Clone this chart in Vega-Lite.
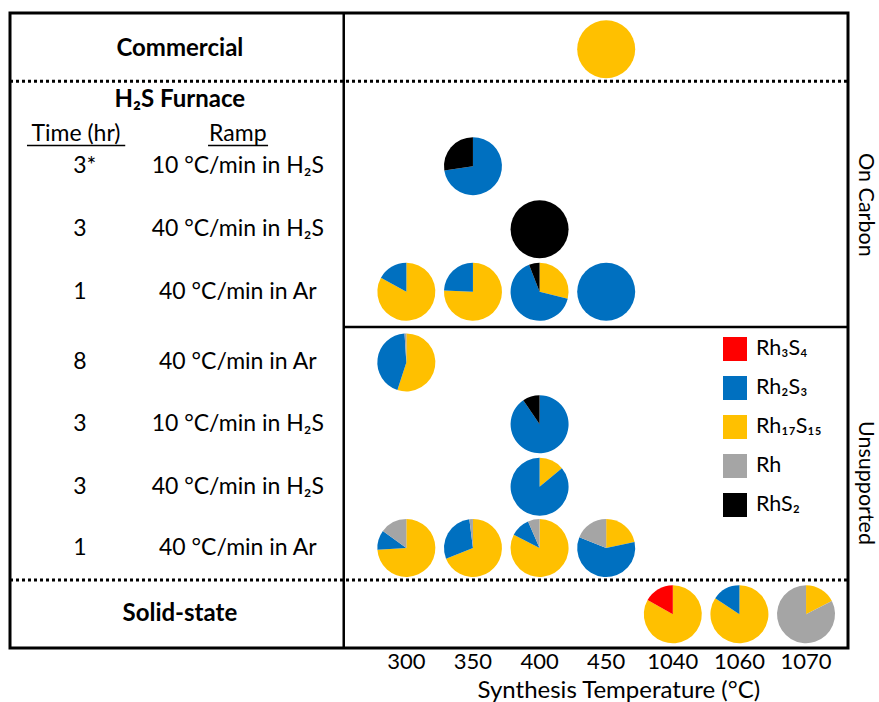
{
  "$schema": "https://vega.github.io/schema/vega-lite/v6.json",
  "width": 838,
  "height": 635,
  "autosize": {"type": "none"},
  "padding": {"left": 10, "top": 13, "right": 31, "bottom": 54},
  "background": "white",
  "config": {
    "view": {"stroke": "black", "strokeWidth": 3},
    "font": "Lato",
    "text": {"font": "Lato", "color": "black"}
  },
  "datasets": {
    "rows": [
      {"row": "c", "y": 0.58},
      {"row": "h1", "time": "3*", "ramp": "10 °C/min in H₂S", "y": 2.45},
      {"row": "h2", "time": "3", "ramp": "40 °C/min in H₂S", "y": 3.46},
      {"row": "h3", "time": "1", "ramp": "40 °C/min in Ar", "y": 4.46},
      {"row": "h4", "time": "8", "ramp": "40 °C/min in Ar", "y": 5.59},
      {"row": "h5", "time": "3", "ramp": "10 °C/min in H₂S", "y": 6.58},
      {"row": "h6", "time": "3", "ramp": "40 °C/min in H₂S", "y": 7.58},
      {"row": "h7", "time": "1", "ramp": "40 °C/min in Ar", "y": 8.56},
      {"row": "s", "y": 9.62}
    ],
    "temps": [
      {"temp": "300", "x": 1},
      {"temp": "350", "x": 2},
      {"temp": "400", "x": 3},
      {"temp": "450", "x": 4},
      {"temp": "1040", "x": 5},
      {"temp": "1060", "x": 6},
      {"temp": "1070", "x": 7}
    ],
    "axisTitle": [
      {"label": "Synthesis Temperature (°C)", "x": 4.19, "y": 10.84}
    ],
    "sections": [
      {"label": "Commercial", "x": -2.4, "y": 0.58},
      {"label": "H₂S Furnace", "x": -2.4, "y": 1.39},
      {"label": "Solid-state", "x": -2.4, "y": 9.62}
    ],
    "heads": [
      {"label": "Time (hr)", "x": -3.96, "y": 1.94},
      {"label": "Ramp", "x": -1.53, "y": 1.94}
    ],
    "underlines": [
      {"x": -4.695, "x2": -3.22, "y": 2.12},
      {"x": -1.977, "x2": -1.076, "y": 2.12}
    ],
    "support": [
      {"label": "On Carbon", "x": 7.88, "y": 3.07},
      {"label": "Unsupported", "x": 7.88, "y": 7.52}
    ],
    "solid": [
      {"x": 0.06, "x2": 0.06, "y": 0, "y2": 10.16},
      {"x": 0.06, "x2": 7.63, "y": 5.024, "y2": 5.024}
    ],
    "dotted": [
      {"x": -4.95, "x2": 7.63, "y": 1.09},
      {"x": -4.95, "x2": 7.63, "y": 9.07}
    ],
    "pies": [
      {"row": "c", "temp": "450", "phase": "Rh₁₇S₁₅", "pct": 100},
      {"row": "h1", "temp": "350", "phase": "Rh₂S₃", "pct": 72.6},
      {"row": "h1", "temp": "350", "phase": "RhS₂", "pct": 27.4},
      {"row": "h2", "temp": "400", "phase": "RhS₂", "pct": 100},
      {"row": "h3", "temp": "300", "phase": "Rh₁₇S₁₅", "pct": 83},
      {"row": "h3", "temp": "300", "phase": "Rh₂S₃", "pct": 17},
      {"row": "h3", "temp": "350", "phase": "Rh₁₇S₁₅", "pct": 75.7},
      {"row": "h3", "temp": "350", "phase": "Rh₂S₃", "pct": 24.3},
      {"row": "h3", "temp": "400", "phase": "Rh₁₇S₁₅", "pct": 28.9},
      {"row": "h3", "temp": "400", "phase": "Rh₂S₃", "pct": 65.2},
      {"row": "h3", "temp": "400", "phase": "RhS₂", "pct": 5.9},
      {"row": "h3", "temp": "450", "phase": "Rh₂S₃", "pct": 100},
      {"row": "h4", "temp": "300", "phase": "Rh₁₇S₁₅", "pct": 55},
      {"row": "h4", "temp": "300", "phase": "Rh₂S₃", "pct": 44},
      {"row": "h4", "temp": "300", "phase": "Rh", "pct": 1},
      {"row": "h5", "temp": "400", "phase": "Rh₂S₃", "pct": 90.5},
      {"row": "h5", "temp": "400", "phase": "RhS₂", "pct": 9.5},
      {"row": "h6", "temp": "400", "phase": "Rh₁₇S₁₅", "pct": 14},
      {"row": "h6", "temp": "400", "phase": "Rh₂S₃", "pct": 86},
      {"row": "h7", "temp": "300", "phase": "Rh₁₇S₁₅", "pct": 74},
      {"row": "h7", "temp": "300", "phase": "Rh₂S₃", "pct": 11},
      {"row": "h7", "temp": "300", "phase": "Rh", "pct": 15},
      {"row": "h7", "temp": "350", "phase": "Rh₁₇S₁₅", "pct": 69},
      {"row": "h7", "temp": "350", "phase": "Rh₂S₃", "pct": 29},
      {"row": "h7", "temp": "350", "phase": "Rh", "pct": 2},
      {"row": "h7", "temp": "400", "phase": "Rh₁₇S₁₅", "pct": 82.5},
      {"row": "h7", "temp": "400", "phase": "Rh₂S₃", "pct": 11},
      {"row": "h7", "temp": "400", "phase": "Rh", "pct": 6.5},
      {"row": "h7", "temp": "450", "phase": "Rh₁₇S₁₅", "pct": 21.7},
      {"row": "h7", "temp": "450", "phase": "Rh₂S₃", "pct": 59.4},
      {"row": "h7", "temp": "450", "phase": "Rh", "pct": 18.9},
      {"row": "s", "temp": "1040", "phase": "Rh₁₇S₁₅", "pct": 83.2},
      {"row": "s", "temp": "1040", "phase": "Rh₃S₄", "pct": 16.8},
      {"row": "s", "temp": "1060", "phase": "Rh₁₇S₁₅", "pct": 84.3},
      {"row": "s", "temp": "1060", "phase": "Rh₂S₃", "pct": 15.7},
      {"row": "s", "temp": "1070", "phase": "Rh₁₇S₁₅", "pct": 17.5},
      {"row": "s", "temp": "1070", "phase": "Rh", "pct": 82.5}
    ]
  },
  "layer": [
    {
      "data": {"name": "pies"},
      "transform": [
        {"lookup": "row", "from": {"data": {"name": "rows"}, "key": "row", "fields": ["y"]}},
        {"lookup": "temp", "from": {"data": {"name": "temps"}, "key": "temp", "fields": ["x"]}},
        {"stack": "pct", "groupby": ["row", "temp"], "as": ["a0", "a1"]}
      ],
      "mark": {"type": "arc", "outerRadius": 29},
      "encoding": {
        "x": {
          "field": "x", "type": "quantitative",
          "scale": {"domain": [-4.95, 7.63], "nice": false, "zero": false},
          "axis": null
        },
        "y": {
          "field": "y", "type": "quantitative",
          "scale": {"domain": [0, 10.16], "nice": false, "zero": false, "reverse": true},
          "axis": null
        },
        "theta": {"field": "a0", "type": "quantitative", "stack": null, "scale": {"domain": [0, 100]}},
        "theta2": {"field": "a1"},
        "color": {
          "field": "phase", "type": "nominal",
          "scale": {
            "domain": ["Rh₃S₄", "Rh₂S₃", "Rh₁₇S₁₅", "Rh", "RhS₂"],
            "range": ["#FF0000", "#0070C0", "#FFC000", "#A5A5A5", "#000000"]
          },
          "legend": {
            "orient": "none", "legendX": 713, "legendY": 324, "title": null, "padding": 0,
            "symbolType": "square", "symbolSize": 576, "symbolStrokeWidth": 0, "symbolOpacity": 1,
            "labelFont": "Lato", "labelFontSize": 21.5, "labelColor": "black", "labelOffset": 9,
            "rowPadding": 15
          }
        }
      }
    },
    {
      "data": {"name": "solid"},
      "mark": {"type": "rule", "color": "black", "strokeWidth": 2.5},
      "encoding": {
        "x": {"field": "x", "type": "quantitative", "axis": null},
        "x2": {"field": "x2"},
        "y": {"field": "y", "type": "quantitative", "axis": null},
        "y2": {"field": "y2"}
      }
    },
    {
      "data": {"name": "dotted"},
      "mark": {"type": "rule", "color": "black", "strokeWidth": 3, "strokeDash": [3, 3]},
      "encoding": {
        "x": {"field": "x", "type": "quantitative", "axis": null},
        "x2": {"field": "x2"},
        "y": {"field": "y", "type": "quantitative", "axis": null}
      }
    },
    {
      "data": {"name": "underlines"},
      "mark": {"type": "rule", "color": "black", "strokeWidth": 1.5},
      "encoding": {
        "x": {"field": "x", "type": "quantitative", "axis": null},
        "x2": {"field": "x2"},
        "y": {"field": "y", "type": "quantitative", "axis": null}
      }
    },
    {
      "data": {"name": "sections"},
      "mark": {"type": "text", "fontSize": 24, "fontWeight": "bold", "align": "center", "baseline": "middle"},
      "encoding": {
        "x": {"field": "x", "type": "quantitative", "axis": null},
        "y": {"field": "y", "type": "quantitative", "axis": null},
        "text": {"field": "label"}
      }
    },
    {
      "data": {"name": "heads"},
      "mark": {"type": "text", "fontSize": 23, "align": "center", "baseline": "middle"},
      "encoding": {
        "x": {"field": "x", "type": "quantitative", "axis": null},
        "y": {"field": "y", "type": "quantitative", "axis": null},
        "text": {"field": "label"}
      }
    },
    {
      "data": {"name": "rows"},
      "transform": [{"filter": "datum.time"}],
      "mark": {"type": "text", "fontSize": 23, "align": "left", "baseline": "middle"},
      "encoding": {
        "x": {"datum": -4.0, "type": "quantitative", "axis": null},
        "y": {"field": "y", "type": "quantitative", "axis": null},
        "text": {"field": "time"}
      }
    },
    {
      "data": {"name": "rows"},
      "transform": [{"filter": "datum.ramp"}],
      "mark": {"type": "text", "fontSize": 23, "align": "center", "baseline": "middle"},
      "encoding": {
        "x": {"datum": -1.53, "type": "quantitative", "axis": null},
        "y": {"field": "y", "type": "quantitative", "axis": null},
        "text": {"field": "ramp"}
      }
    },
    {
      "data": {"name": "support"},
      "mark": {"type": "text", "fontSize": 21.5, "align": "center", "baseline": "middle", "angle": 90},
      "encoding": {
        "x": {"field": "x", "type": "quantitative", "axis": null},
        "y": {"field": "y", "type": "quantitative", "axis": null},
        "text": {"field": "label"}
      }
    },
    {
      "data": {"name": "temps"},
      "mark": {"type": "text", "fontSize": 22, "align": "center", "baseline": "middle"},
      "encoding": {
        "x": {"field": "x", "type": "quantitative", "axis": null},
        "y": {"datum": 10.38, "type": "quantitative", "axis": null},
        "text": {"field": "temp"}
      }
    },
    {
      "data": {"name": "axisTitle"},
      "mark": {"type": "text", "fontSize": 24, "align": "center", "baseline": "middle"},
      "encoding": {
        "x": {"field": "x", "type": "quantitative", "axis": null},
        "y": {"field": "y", "type": "quantitative", "axis": null},
        "text": {"field": "label"}
      }
    }
  ]
}
